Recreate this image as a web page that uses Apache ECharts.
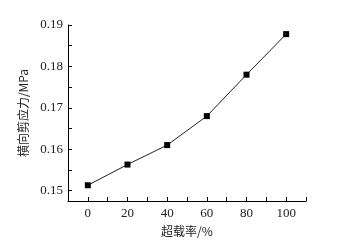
<!DOCTYPE html>
<html>
<head>
<meta charset="utf-8">
<script src="https://cdn.jsdelivr.net/npm/echarts@6/dist/echarts.min.js"></script>
<style>
  html, body { margin: 0; padding: 0; background: #fff; }
  #chart { width: 339px; height: 248px; }
</style>
</head>
<body>
<div id="chart"></div>
<script>
// 超载率 (%) 与横向剪应力 (MPa)
var overloadRate = [0, 20, 40, 60, 80, 100];
var shearStress = [0.1513, 0.1563, 0.1610, 0.1680, 0.1780, 0.1878];

// 刻度
var yLabels = [0.15, 0.16, 0.17, 0.18, 0.19];
var yTicks = [0.15, 0.155, 0.16, 0.165, 0.17, 0.175, 0.18, 0.185, 0.19];
var xLabels = [0, 20, 40, 60, 80, 100];
var xTicks = [0, 10, 20, 30, 40, 50, 60, 70, 80, 90, 100, 110];

var serif = '"Liberation Serif", "Noto Sans CJK SC", serif';
var cjk = '"Noto Sans CJK SC", "Liberation Serif", serif';

var chart = echarts.init(document.getElementById('chart'));

var option = {
  backgroundColor: '#fff',
  animation: false,
  grid: {
    left: 68,
    right: 33,
    top: 25,
    bottom: 47,
    containLabel: false
  },
  xAxis: {
    type: 'value',
    min: -10,
    max: 110,
    name: '超载率/%',
    nameLocation: 'middle',
    nameGap: 24,
    nameTextStyle: { color: '#222', fontSize: 12, fontFamily: cjk },
    axisLine: { onZero: false, lineStyle: { color: '#000', width: 1 } },
    axisTick: { inside: true, length: 4, customValues: xTicks, lineStyle: { color: '#000' } },
    axisLabel: {
      customValues: xLabels,
      color: '#222',
      fontSize: 13,
      fontFamily: serif,
      margin: 6
    },
    splitLine: { show: false }
  },
  yAxis: {
    type: 'value',
    min: 0.1475,
    max: 0.19,
    name: '横向剪应力/MPa',
    nameLocation: 'middle',
    nameGap: 35,
    nameTextStyle: { color: '#222', fontSize: 12, fontFamily: cjk },
    axisLine: { show: true, onZero: false, lineStyle: { color: '#000', width: 1 } },
    axisTick: { show: true, inside: true, length: 4, customValues: yTicks, lineStyle: { color: '#000' } },
    axisLabel: {
      customValues: yLabels,
      color: '#222',
      fontSize: 13,
      fontFamily: serif,
      margin: 5,
      formatter: function (v) { return v.toFixed(2); }
    },
    splitLine: { show: false }
  },
  series: [
    {
      type: 'line',
      data: overloadRate.map(function (x, i) { return [x, shearStress[i]]; }),
      symbol: 'rect',
      symbolSize: 6,
      lineStyle: { color: '#222', width: 1 },
      itemStyle: { color: '#000' }
    }
  ]
};

chart.setOption(option);
</script>
</body>
</html>
